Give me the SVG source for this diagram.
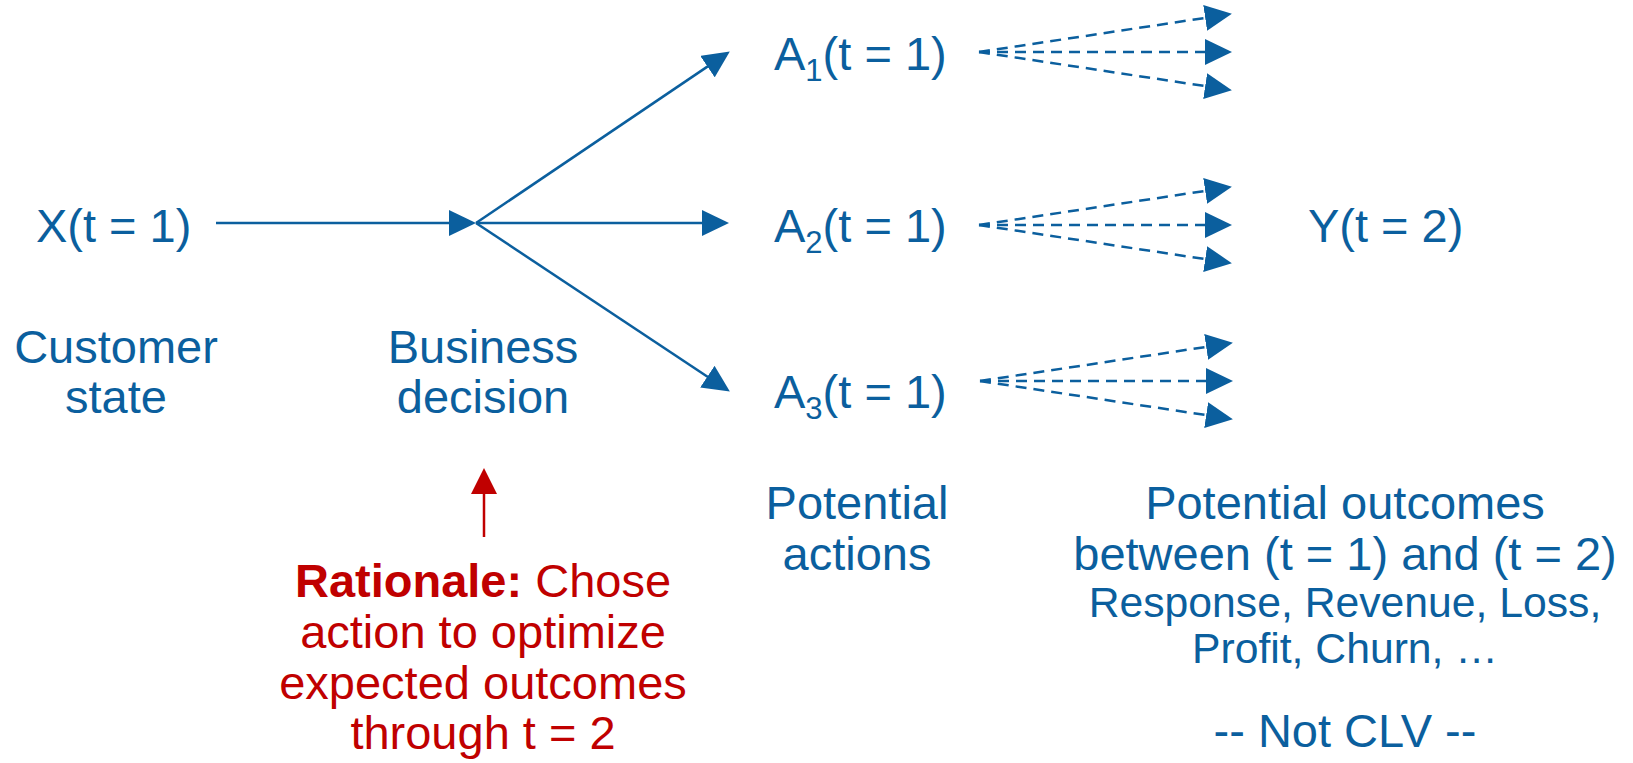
<svg xmlns="http://www.w3.org/2000/svg" width="1633" height="763" viewBox="0 0 1633 763">
  <style>
    text { font-family: "Liberation Sans", Arial, sans-serif; fill: #0B5F9E; font-size: 47px; }
    .mid { text-anchor: middle; }
    .small { font-size: 42.7px; }
    .red { fill: #C00000; }
    .red .b { font-weight: bold; }
    .edge { stroke: #0B5F9E; stroke-width: 2.5; fill: none; }
    .dash { stroke-dasharray: 11 7; }
    .redge { stroke: #C00000; stroke-width: 2.5; fill: none; }
  </style>
  <defs>
    <marker id="head" markerUnits="userSpaceOnUse" markerWidth="27" markerHeight="26" refX="16" refY="13" orient="auto">
      <path d="M0,0 L27,13 L0,26 z" fill="#0B5F9E"/>
    </marker>
    <marker id="headRed" markerUnits="userSpaceOnUse" markerWidth="26" markerHeight="26" refX="16" refY="13" orient="auto">
      <path d="M0,0 L26,13 L0,26 z" fill="#C00000"/>
    </marker>
  </defs>
  <rect width="1633" height="763" fill="#ffffff"/>

  <!-- connectors -->
  <g id="connectors">
    <!-- state to decision -->
    <line class="edge" x1="216" y1="223" x2="465" y2="223" marker-end="url(#head)"/>
    <!-- decision to actions -->
    <line class="edge" x1="476" y1="223" x2="720.7" y2="57.6" marker-end="url(#head)"/>
    <line class="edge" x1="476" y1="223" x2="718" y2="223" marker-end="url(#head)"/>
    <line class="edge" x1="476" y1="223" x2="720.7" y2="385.5" marker-end="url(#head)"/>
    <!-- outcome fans -->
    <g class="edge dash">
      <line x1="979" y1="52" x2="1221" y2="15.5" marker-end="url(#head)"/>
      <line x1="979" y1="52" x2="1221" y2="52" marker-end="url(#head)"/>
      <line x1="979" y1="52" x2="1221" y2="88.5" marker-end="url(#head)"/>

      <line x1="979" y1="225" x2="1221" y2="188.5" marker-end="url(#head)"/>
      <line x1="979" y1="225" x2="1221" y2="225" marker-end="url(#head)"/>
      <line x1="979" y1="225" x2="1221" y2="261.5" marker-end="url(#head)"/>

      <line x1="980" y1="381" x2="1222" y2="344.5" marker-end="url(#head)"/>
      <line x1="980" y1="381" x2="1222" y2="381" marker-end="url(#head)"/>
      <line x1="980" y1="381" x2="1222" y2="417.5" marker-end="url(#head)"/>
    </g>
    <!-- rationale pointer -->
    <line class="redge" x1="484" y1="537" x2="484" y2="478" marker-end="url(#headRed)"/>
  </g>

  <g id="customer-state">
    <text x="36" y="242">X(t = 1)</text>
    <text class="mid" x="116" y="363">Customer</text>
    <text class="mid" x="116" y="413">state</text>
  </g>

  <g id="business-decision">
    <text class="mid" x="483" y="363">Business</text>
    <text class="mid" x="483" y="413">decision</text>
  </g>

  <g id="action-1">
    <text x="774" y="70">A<tspan font-size="31" dy="11">1</tspan><tspan dy="-11">(t = 1)</tspan></text>
  </g>
  <g id="action-2">
    <text x="774" y="242">A<tspan font-size="31" dy="11">2</tspan><tspan dy="-11">(t = 1)</tspan></text>
  </g>
  <g id="action-3">
    <text x="774" y="408">A<tspan font-size="31" dy="11">3</tspan><tspan dy="-11">(t = 1)</tspan></text>
  </g>

  <g id="potential-actions">
    <text class="mid" x="857" y="519">Potential</text>
    <text class="mid" x="857" y="570">actions</text>
  </g>

  <g id="outcome">
    <text x="1308" y="242">Y(t = 2)</text>
  </g>

  <g id="potential-outcomes">
    <text class="mid" x="1345" y="519">Potential outcomes</text>
    <text class="mid" x="1345" y="570">between (t = 1) and (t = 2)</text>
    <text class="mid small" x="1345" y="617">Response, Revenue, Loss,</text>
    <text class="mid small" x="1345" y="663">Profit, Churn, …</text>
    <text class="mid" x="1345" y="747">-- Not CLV --</text>
  </g>

  <g id="rationale">
    <text class="mid red" x="483" y="597"><tspan class="b">Rationale:</tspan> Chose</text>
    <text class="mid red" x="483" y="648">action to optimize</text>
    <text class="mid red" x="483" y="699">expected outcomes</text>
    <text class="mid red" x="483" y="749">through t = 2</text>
  </g>
</svg>
